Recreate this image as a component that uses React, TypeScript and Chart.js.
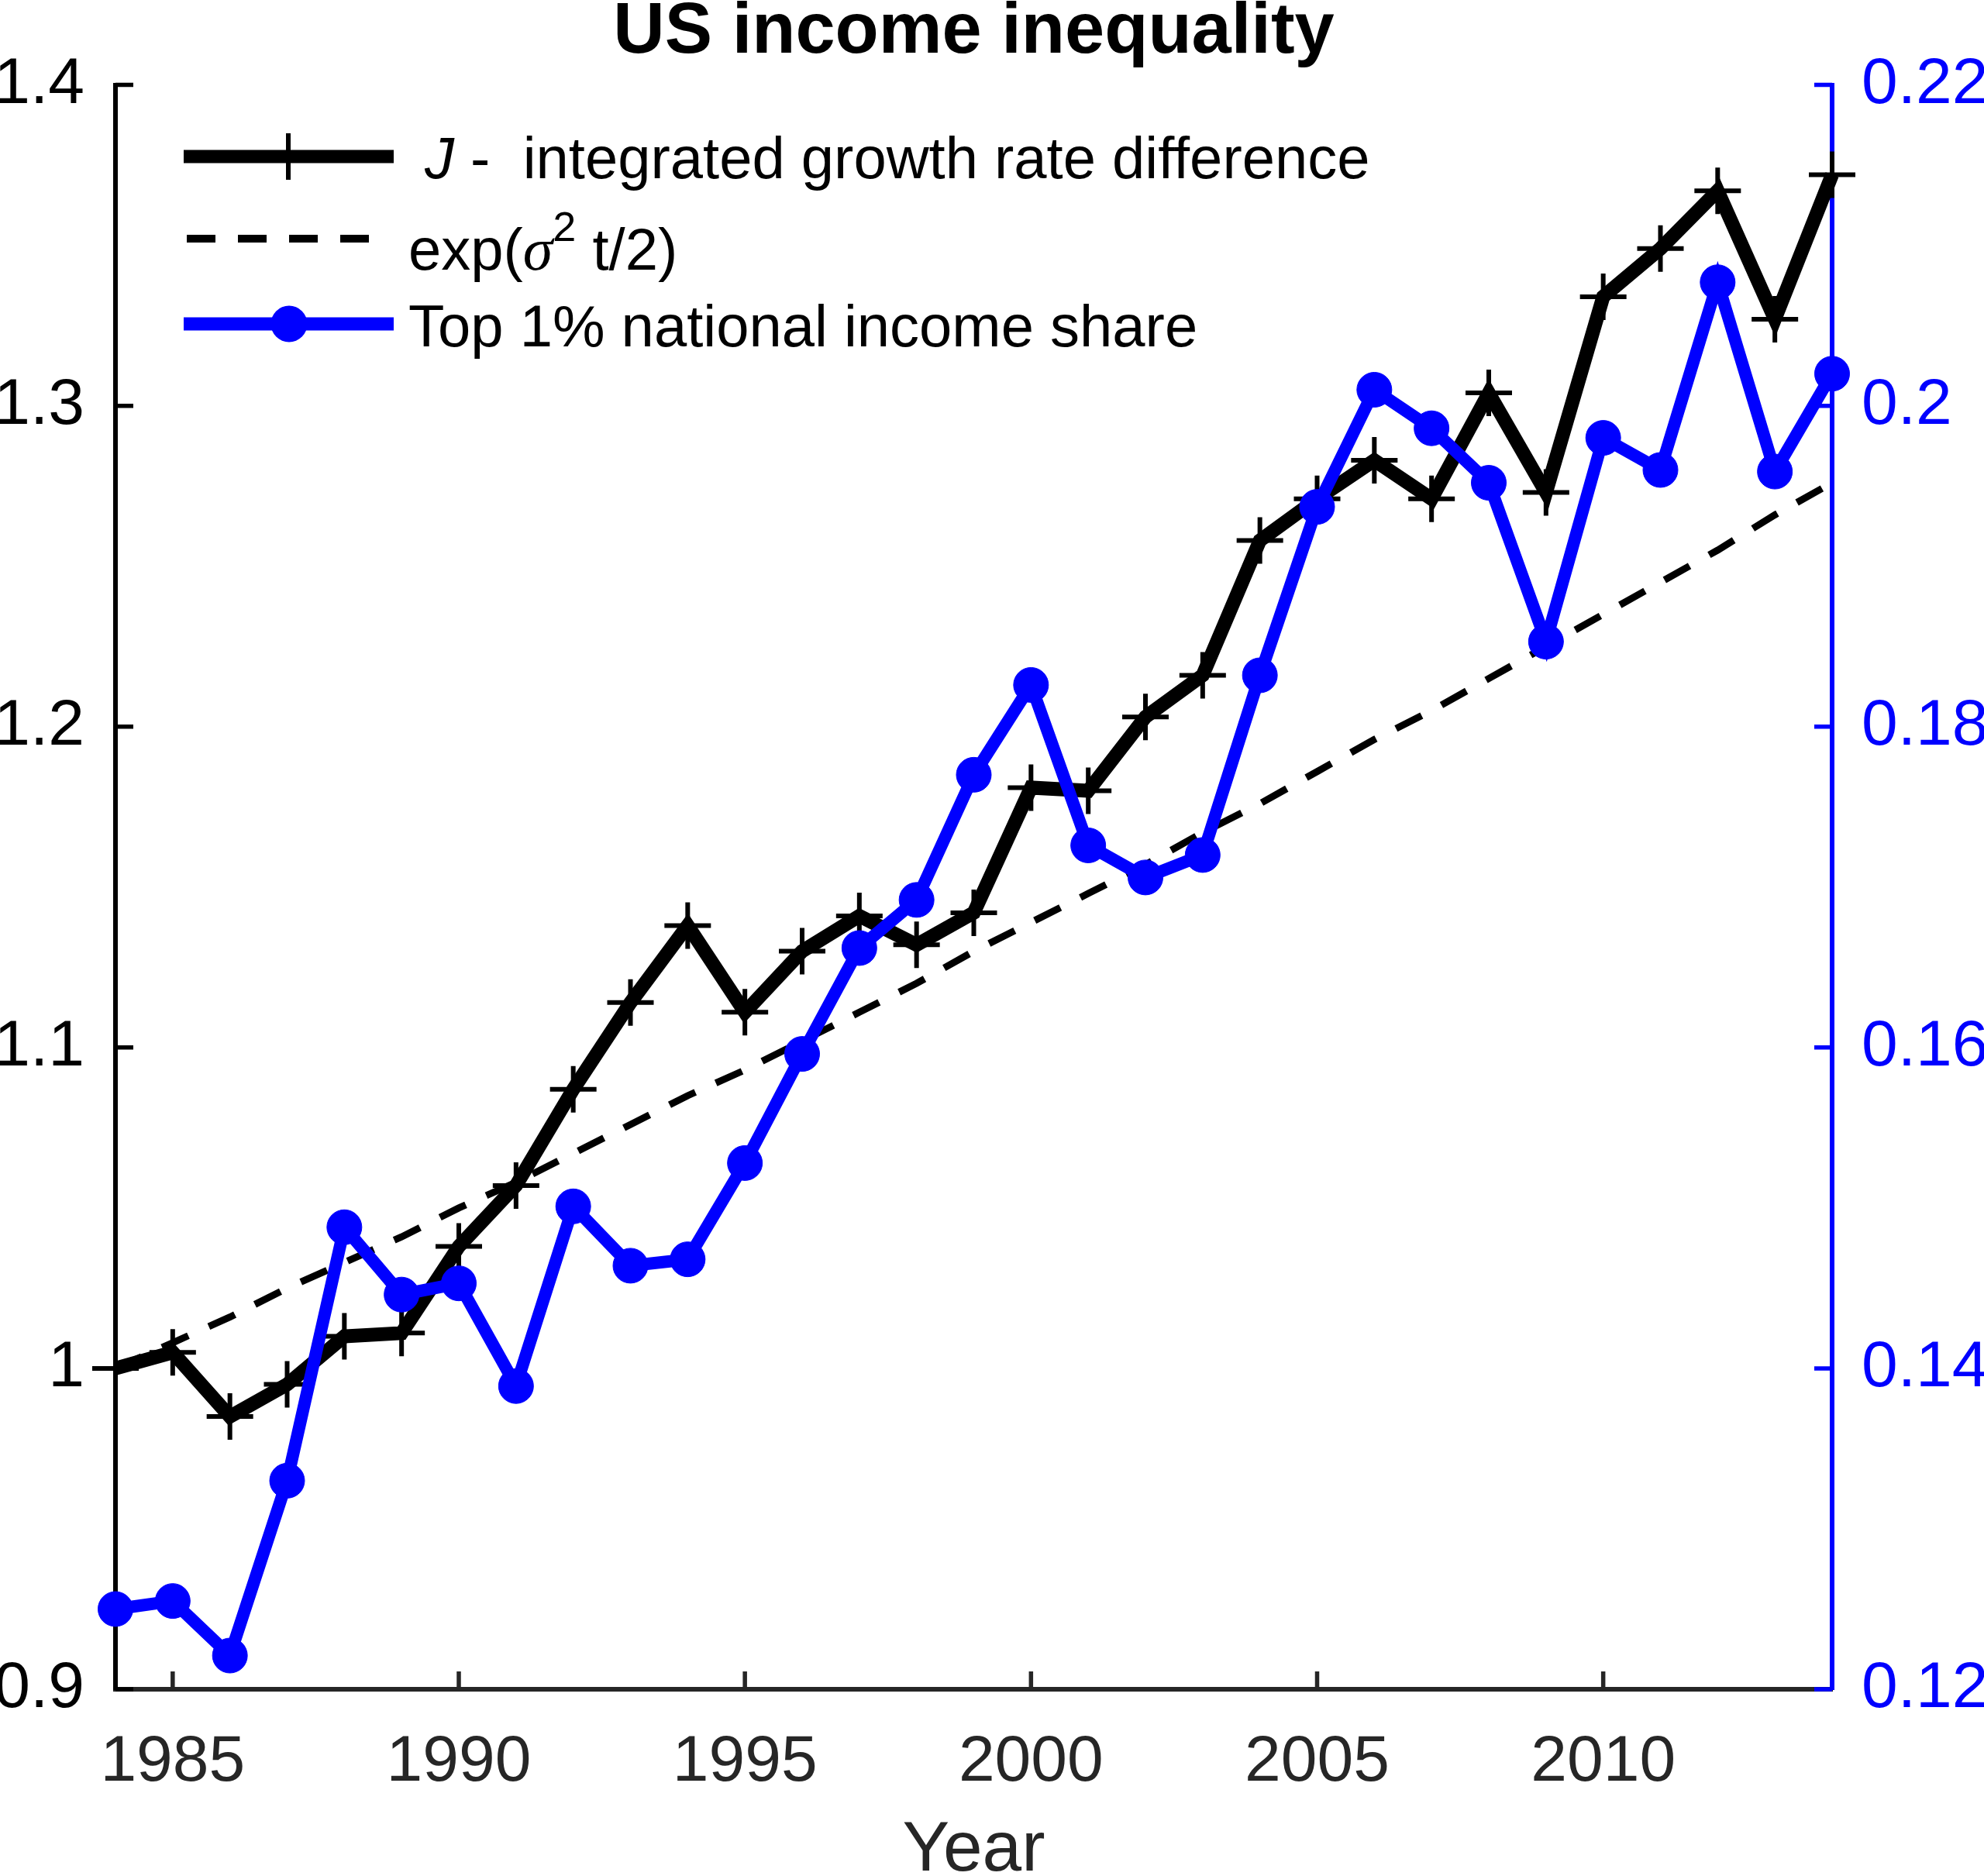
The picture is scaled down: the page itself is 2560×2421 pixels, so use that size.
import React, { useEffect, useRef } from 'react';
import { Chart, registerables } from 'chart.js';

Chart.register(...registerables);

const FONT = "'Liberation Sans', Arial, Helvetica, sans-serif";
const SERIF = "'Liberation Serif', 'Times New Roman', serif";
const BLUE = '#0000ff';
const AXIS_GRAY = '#262626';

// Years on the horizontal axis
const YEARS = [
  1984, 1985, 1986, 1987, 1988, 1989, 1990, 1991, 1992, 1993, 1994,
  1995, 1996, 1997, 1998, 1999, 2000, 2001, 2002, 2003, 2004,
  2005, 2006, 2007, 2008, 2009, 2010, 2011, 2012, 2013, 2014,
];

// J: integrated growth rate difference (left axis)
const J_GROWTH = [
  1.0, 1.005, 0.985, 0.995, 1.01, 1.011, 1.038, 1.057, 1.087, 1.114, 1.138,
  1.111, 1.13, 1.141, 1.132, 1.142, 1.181, 1.18, 1.203, 1.216, 1.258,
  1.271, 1.283, 1.271, 1.304, 1.273, 1.334, 1.349, 1.367, 1.327, 1.372,
];

// exp(sigma^2 t / 2) reference curve (left axis)
const EXP_TREND = [
  1.0, 1.008, 1.016, 1.025, 1.033, 1.041, 1.05, 1.058, 1.067, 1.076, 1.085,
  1.093, 1.102, 1.111, 1.12, 1.13, 1.139, 1.148, 1.157, 1.167, 1.176,
  1.186, 1.196, 1.205, 1.215, 1.225, 1.235, 1.245, 1.255, 1.266, 1.276,
];

// Top 1% national income share (right axis)
const TOP1_SHARE = [
  0.125, 0.1255, 0.1221, 0.133, 0.1488, 0.1446, 0.1453, 0.1389, 0.1501, 0.1464, 0.1468,
  0.1528, 0.1596, 0.1662, 0.1692, 0.177, 0.1826, 0.1726, 0.1706, 0.172, 0.1832,
  0.1937, 0.201, 0.1986, 0.1952, 0.1853, 0.198, 0.196, 0.2077, 0.1959, 0.202,
];

const X_TICKS = [1985, 1990, 1995, 2000, 2005, 2010];
const LEFT_TICKS = [0.9, 1, 1.1, 1.2, 1.3, 1.4];
const LEFT_TICK_LABELS = ['0.9', '1', '1.1', '1.2', '1.3', '1.4'];
const RIGHT_TICKS = [0.12, 0.14, 0.16, 0.18, 0.2, 0.22];
const RIGHT_TICK_LABELS = ['0.12', '0.14', '0.16', '0.18', '0.2', '0.22'];

const TITLE = 'US income inequality';
const X_TITLE = 'Year';
const LEGEND_J_SYMBOL = 'J';
const LEGEND_J_TEXT = ' -  integrated growth rate difference';
const LEGEND_EXP = ['exp(', '\u03c3', '2', ' t/2)'];
const LEGEND_TOP1 = 'Top 1% national income share';

const W = 2560;
const H = 2421;
const TICK_LEN = 23;

// Inward tick marks on all three axes, drawn beneath the data
const inwardTicks = {
  id: 'inwardTicks',
  beforeDatasetsDraw(chart: any) {
    const { ctx, chartArea, scales } = chart;
    const { left, right, bottom } = chartArea;
    ctx.save();
    ctx.lineWidth = 5.5;
    ctx.lineCap = 'butt';

    ctx.strokeStyle = AXIS_GRAY;
    ctx.beginPath();
    for (const t of scales.x.ticks) {
      const px = scales.x.getPixelForValue(t.value);
      ctx.moveTo(px, bottom);
      ctx.lineTo(px, bottom - TICK_LEN);
    }
    ctx.stroke();

    ctx.strokeStyle = '#000000';
    ctx.beginPath();
    for (const t of scales.yLeft.ticks) {
      const py = scales.yLeft.getPixelForValue(t.value);
      ctx.moveTo(left, py);
      ctx.lineTo(left + TICK_LEN, py);
    }
    ctx.stroke();

    ctx.strokeStyle = BLUE;
    ctx.beginPath();
    for (const t of scales.yRight.ticks) {
      const py = scales.yRight.getPixelForValue(t.value);
      ctx.moveTo(right, py);
      ctx.lineTo(right - TICK_LEN, py);
    }
    ctx.stroke();
    ctx.restore();
  },
};

type Run = { text: string; font: string; dy?: number };

function drawRuns(ctx: CanvasRenderingContext2D, x: number, y: number, runs: Run[]) {
  let cx = x;
  for (const r of runs) {
    ctx.font = r.font;
    ctx.fillText(r.text, cx, y + (r.dy || 0));
    cx += ctx.measureText(r.text).width;
  }
}

// Legend in the upper-left corner of the plot
const insideLegend = {
  id: 'insideLegend',
  afterDraw(chart: any) {
    const { ctx } = chart;
    const ds = chart.data.datasets;
    const top1 = ds[0];
    const jLine = ds[1];
    const trend = ds[2];
    const x0 = 237;
    const x1 = 508;
    const xm = 372;
    ctx.save();

    // J row
    ctx.strokeStyle = jLine.borderColor;
    ctx.lineWidth = 17;
    ctx.beginPath();
    ctx.moveTo(x0, 202);
    ctx.lineTo(x1, 202);
    ctx.stroke();
    ctx.lineWidth = jLine.pointBorderWidth;
    ctx.beginPath();
    ctx.moveTo(xm, 202 - jLine.pointRadius);
    ctx.lineTo(xm, 202 + jLine.pointRadius);
    ctx.stroke();

    // exp row
    ctx.strokeStyle = trend.borderColor;
    ctx.lineWidth = trend.borderWidth + 1;
    ctx.setLineDash(trend.borderDash);
    ctx.beginPath();
    ctx.moveTo(241, 308);
    ctx.lineTo(505, 308);
    ctx.stroke();
    ctx.setLineDash([]);

    // Top 1% row
    ctx.strokeStyle = top1.borderColor;
    ctx.lineWidth = 17;
    ctx.beginPath();
    ctx.moveTo(x0, 418);
    ctx.lineTo(x1, 418);
    ctx.stroke();
    ctx.fillStyle = top1.pointBackgroundColor;
    ctx.beginPath();
    ctx.arc(xm + 1, 418, top1.pointRadius + 1, 0, Math.PI * 2);
    ctx.fill();

    ctx.fillStyle = '#000000';
    ctx.textBaseline = 'alphabetic';
    ctx.textAlign = 'left';
    drawRuns(ctx, 548, 230, [
      { text: LEGEND_J_SYMBOL, font: `italic 76px ${FONT}` },
      { text: LEGEND_J_TEXT, font: `76px ${FONT}` },
    ]);
    drawRuns(ctx, 527, 348, [
      { text: LEGEND_EXP[0], font: `76px ${FONT}` },
      { text: LEGEND_EXP[1], font: `italic 78px ${SERIF}` },
      { text: LEGEND_EXP[2], font: `54px ${FONT}`, dy: -37 },
      { text: LEGEND_EXP[3], font: `76px ${FONT}` },
    ]);
    drawRuns(ctx, 527, 447, [{ text: LEGEND_TOP1, font: `76px ${FONT}` }]);
    ctx.restore();
  },
};

export default function App() {
  const canvasRef = useRef<HTMLCanvasElement | null>(null);

  useEffect(() => {
    const canvas = canvasRef.current;
    if (!canvas) return;

    const toPoints = (vals: number[]) => YEARS.map((x, i) => ({ x, y: vals[i] }));

    const chart = new Chart(canvas, {
      type: 'line',
      data: {
        datasets: [
          {
            label: LEGEND_TOP1,
            data: toPoints(TOP1_SHARE),
            yAxisID: 'yRight',
            borderColor: BLUE,
            backgroundColor: BLUE,
            borderWidth: 16,
            pointStyle: 'circle',
            pointRadius: 22.5,
            pointBorderWidth: 1,
            pointBackgroundColor: BLUE,
            pointBorderColor: BLUE,
            order: 0,
            clip: false,
            fill: false,
            tension: 0,
          },
          {
            label: LEGEND_J_SYMBOL + LEGEND_J_TEXT,
            data: toPoints(J_GROWTH),
            yAxisID: 'yLeft',
            borderColor: '#000000',
            backgroundColor: '#000000',
            borderWidth: 18,
            pointStyle: 'cross',
            pointRadius: 30,
            pointBorderWidth: 6,
            pointBorderColor: '#000000',
            order: 1,
            clip: false,
            fill: false,
            tension: 0,
          },
          {
            label: LEGEND_EXP.join(''),
            data: toPoints(EXP_TREND),
            yAxisID: 'yLeft',
            borderColor: '#000000',
            borderWidth: 9,
            borderDash: [37, 29],
            pointRadius: 0,
            order: 2,
            clip: false,
            fill: false,
            tension: 0,
          },
        ],
      },
      options: {
        responsive: false,
        maintainAspectRatio: false,
        animation: false,
        devicePixelRatio: 1,
        events: [],
        layout: { padding: 0 },
        plugins: {
          legend: { display: false },
          tooltip: { enabled: false },
          title: {
            display: true,
            text: TITLE,
            fullSize: false,
            color: '#000000',
            font: { family: FONT, size: 92, weight: 'bold', lineHeight: 0.8 },
            padding: { top: 6, bottom: 30 },
          },
        },
        scales: {
          x: {
            type: 'linear',
            position: 'bottom',
            min: 1984,
            max: 2014,
            afterBuildTicks: (axis: any) => {
              axis.ticks = X_TICKS.map((v) => ({ value: v }));
            },
            afterFit: (axis: any) => {
              axis.height = H - 2180;
            },
            ticks: {
              autoSkip: false,
              maxRotation: 0,
              color: AXIS_GRAY,
              padding: 44,
              font: { family: FONT, size: 84 },
              callback: (v: any) => String(v),
            },
            grid: { display: false, drawTicks: false },
            border: { display: true, color: AXIS_GRAY, width: 6 },
            title: {
              display: true,
              text: X_TITLE,
              color: AXIS_GRAY,
              font: { family: FONT, size: 91, lineHeight: 0.7 },
              padding: 0,
            },
          },
          yLeft: {
            type: 'linear',
            position: 'left',
            min: 0.9,
            max: 1.4,
            afterBuildTicks: (axis: any) => {
              axis.ticks = LEFT_TICKS.map((v) => ({ value: v }));
            },
            afterFit: (axis: any) => {
              axis.width = 149;
            },
            ticks: {
              color: '#000000',
              padding: 40,
              font: { family: FONT, size: 84 },
              callback: (_v: any, i: number) => LEFT_TICK_LABELS[i],
            },
            grid: { display: false, drawTicks: false },
            border: { display: true, color: '#000000', width: 6 },
          },
          yRight: {
            type: 'linear',
            position: 'right',
            min: 0.12,
            max: 0.22,
            afterBuildTicks: (axis: any) => {
              axis.ticks = RIGHT_TICKS.map((v) => ({ value: v }));
            },
            afterFit: (axis: any) => {
              axis.width = W - 2364;
            },
            ticks: {
              color: BLUE,
              padding: 38,
              font: { family: FONT, size: 84 },
              callback: (_v: any, i: number) => RIGHT_TICK_LABELS[i],
            },
            grid: { display: false, drawTicks: false },
            border: { display: true, color: BLUE, width: 6 },
          },
        },
      },
      plugins: [inwardTicks, insideLegend],
    } as any);

    return () => chart.destroy();
  }, []);

  return (
    <div style={{ position: 'absolute', left: 0, top: 0, width: W, height: H, background: '#ffffff' }}>
      <canvas ref={canvasRef} width={W} height={H} style={{ display: 'block', width: W, height: H }} />
    </div>
  );
}
